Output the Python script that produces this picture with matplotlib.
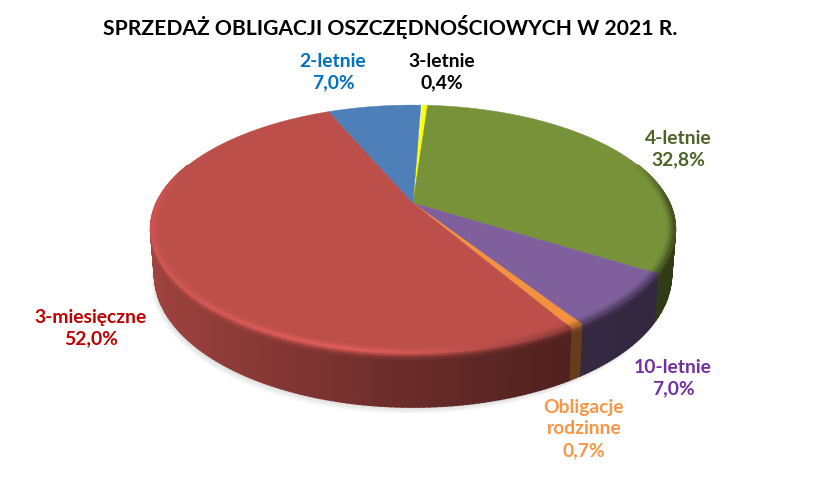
import numpy as np
import matplotlib
matplotlib.use("Agg")
import matplotlib.pyplot as plt
from matplotlib.colors import to_rgb

# sales share per bond type, starting at 3-letnie and going clockwise
labels = ["3-letnie", "4-letnie", "10-letnie", "Obligacje\nrodzinne", "3-miesięczne", "2-letnie"]
values = [0.4, 32.8, 7.0, 0.7, 52.0, 7.0]
value_text = ["0,4%", "32,8%", "7,0%", "0,7%", "52,0%", "7,0%"]
colors = ["#ffff00", "#78923a", "#7f609c", "#f3913f", "#bd4f4b", "#4f7fb9"]
text_colors = ["#000000", "#4f6228", "#7030a0", "#f79646", "#c00000", "#0070c0"]

W, H = 827, 478
# perspective disc: apex of the pie is not the middle of the drawn ellipse
CX, CY, A, B, K = 413, 203, 256.5, 118.5, 0.21
START = 2.5  # degrees clockwise from the back of the pie

plt.rcParams["font.family"] = ["Lato", "DejaVu Sans"]
fig = plt.figure(figsize=(W / 100, H / 100), dpi=100)
ax = fig.add_axes([0, 0, 1, 1])
ax.set_xlim(0, W)
ax.set_ylim(H, 0)
ax.axis("off")


def project(deg, r=1.0, low=0.0):
    # deg clockwise from the back, low = 0 top face .. 1 bottom edge of the wall
    t = np.radians(deg)
    u, v = r * np.sin(t), -r * np.cos(t)
    s = 1 / (1 - K * v)
    x = CX + A * u * s * (1 - 0.015 * low)
    y = CY + B * v * s + low * (43 + 11 * v)
    return x, y


def shade(col, f):
    return tuple(min(1, c * f) for c in to_rgb(col))


def wall_f(u):
    return np.interp(u, [-1, -0.5, 0, 0.5, 1], [0.86, 0.72, 0.55, 0.42, 0.40])


def crease_f(u, v):
    # brightness where the top face bends over into the wall
    g = np.interp(u, [-1, -0.6, -0.2, 0.1, 0.35, 0.6, 1], [1.10, 1.16, 1.22, 1.08, 0.85, 0.62, 0.5])
    w = np.clip((v + 0.4) / 0.4, 0, 1)
    return 1 + (g - 1) * w


def quad(d0, d1, r0, r1, l0, l1, col, z, lw=0.5):
    x0, y0 = project(d0, r0, l0)
    x1, y1 = project(d1, r0, l0)
    x2, y2 = project(d1, r1, l1)
    x3, y3 = project(d0, r1, l1)
    ax.fill([x0, x1, x2, x3], [y0, y1, y2, y3], color=col, lw=lw, zorder=z)


# soft drop shadow under the wall
deg = np.linspace(0, 360, 181)
for grow in np.linspace(9, 1, 6):
    bx, by = project(deg, 1.0, 1.0)
    ax.fill(bx - grow * 0.4, by + grow * 0.75, color="#000000", alpha=0.022, lw=0, zorder=1)

edges = np.r_[0, np.cumsum(values)] * 3.6 + START
for a0, a1, col in zip(edges[:-1], edges[1:], colors):
    ts = np.r_[a0, np.arange(np.ceil(a0), a1), a1]
    xs, ys = project(np.linspace(a0, a1, 100))
    ax.fill(np.r_[CX, xs], np.r_[CY, ys], color=col, lw=0.3, zorder=3)
    for d0, d1 in zip(ts[:-1], ts[1:]):
        mid = np.radians((d0 + d1) / 2)
        u, v = np.sin(mid), -np.cos(mid)
        if v < -0.35:
            continue
        cf = crease_f(u, v)
        wf = wall_f(u)
        # wall body, thick edges so no seams show between the strips
        quad(d0, d1, 1, 1, 0, 1, shade(col, wf), 2, lw=1.2)
        # fade from the crease down into the wall
        for i in range(4):
            l0, l1 = i * 0.03, (i + 1) * 0.03
            f = cf + (wf - cf) * (i + 0.5) / 4
            quad(d0, d1, 1, 1, l0, l1, shade(col, f), 2.5, lw=0.9)
        # fade from the flat top into the crease
        for i in range(5):
            r0, r1 = 0.965 + i * 0.007, 0.965 + (i + 1) * 0.007
            f = 1 + (cf - 1) * ((i + 0.5) / 5) ** 1.5
            quad(d0, d1, r0, r1, 0, 0, shade(col, f), 4, lw=0.7)

ax.text(390, 27, "SPRZEDAŻ OBLIGACJI OSZCZĘDNOŚCIOWYCH W 2021 R.", ha="center", va="center",
        fontsize=15.2, fontweight="bold", color="black")

pos = [(442, 72), (678, 149), (673, 378), (584, 429), (91, 328), (333, 72)]
for (x, y), lab, val, tc in zip(pos, labels, value_text, text_colors):
    ax.text(x, y, lab + "\n" + val, ha="center", va="center", fontsize=13.9, fontweight="bold",
            color=tc, linespacing=1.31)

fig.savefig("out.png", dpi=100)
